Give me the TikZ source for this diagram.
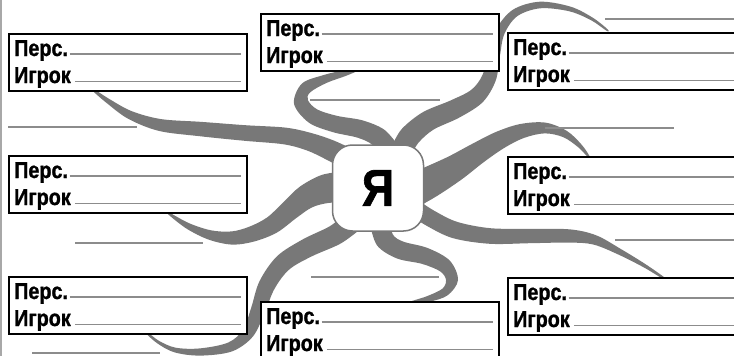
\documentclass[tikz,border=0pt]{standalone}
\usepackage{fontspec}
\setmainfont{Liberation Sans}
\newfontfamily\boxfont[FakeStretch=0.86,FakeBold=1.2]{Liberation Sans}
\usetikzlibrary{calc}

\definecolor{tentgray}{HTML}{787878}
\definecolor{linegray}{HTML}{8C8C8C}
\definecolor{edgegray}{HTML}{A8A8A8}

\tikzset{
  tent/.style={fill=tentgray, draw=none},
  pbox/.style={draw=black, line width=2pt, fill=white, minimum width=238pt, minimum height=57pt, inner sep=0pt, outer sep=0pt},
  plabel/.style={inner sep=0pt, font=\boxfont\bfseries\fontsize{23}{23}\selectfont},
  pline/.style={draw=linegray, line width=1.4pt},
  freeline/.style={draw=linegray, line width=1.5pt},
  mebox/.style={draw=tentgray, line width=1.5pt, fill=white, rounded corners=20pt, minimum width=91pt, minimum height=86pt, inner sep=0pt, font=\boxfont\bfseries\fontsize{52}{52}\selectfont},
}

% tapered tentacle: list of x/y/w from base to tip
\newcommand\tentacle[2][]{%
  \foreach \tA/\tB/\tC [count=\tK] in {#2}{%
    \ifnum\tK=1 \xdef\ttxs{\tA}\xdef\ttys{\tB}\xdef\ttws{\tC}%
    \else \xdef\ttxs{\ttxs,\tA}\xdef\ttys{\ttys,\tB}\xdef\ttws{\ttws,\tC}\fi
    \xdef\ttn{\tK}}%
  \gdef\ttsideL{}\gdef\ttsideR{}%
  \pgfmathtruncatemacro\ttlast{\ttn-1}%
  \foreach \tJ in {0,...,\ttlast}{%
    \pgfmathtruncatemacro\ttjp{max(\tJ-1,0)}%
    \pgfmathtruncatemacro\ttjn{min(\tJ+1,\ttlast)}%
    \pgfmathsetmacro\ttpx{{\ttxs}[\tJ]}%
    \pgfmathsetmacro\ttpy{{\ttys}[\tJ]}%
    \pgfmathsetmacro\ttww{{\ttws}[\tJ]}%
    \pgfmathsetmacro\ttax{{\ttxs}[\ttjn]}%
    \pgfmathsetmacro\ttay{{\ttys}[\ttjn]}%
    \pgfmathsetmacro\ttbx{{\ttxs}[\ttjp]}%
    \pgfmathsetmacro\ttby{{\ttys}[\ttjp]}%
    \pgfmathsetmacro\ttpw{\ttww*0.6}%
    \pgfmathsetmacro\ttdx{\ttax-\ttbx}%
    \pgfmathsetmacro\ttdy{\ttay-\ttby}%
    \pgfmathsetmacro\ttdl{veclen(\ttdx,\ttdy)}%
    \pgfmathsetmacro\ttlx{\ttpx-(\ttdy)/\ttdl*\ttpw}%
    \pgfmathsetmacro\ttly{\ttpy+(\ttdx)/\ttdl*\ttpw}%
    \pgfmathsetmacro\ttrx{\ttpx+(\ttdy)/\ttdl*\ttpw}%
    \pgfmathsetmacro\ttry{\ttpy-(\ttdx)/\ttdl*\ttpw}%
    \xdef\ttsideL{\ttsideL(\ttlx,\ttly)}%
    \xdef\ttsideR{(\ttrx,\ttry)\ttsideR}%
  }%
  \edef\tttmp{\noexpand\fill[tent,#1] plot[smooth,tension=0.55] coordinates {\ttsideL\ttsideR} -- cycle;}%
  \tttmp}

% person box
\newcommand\pbox[3]{%
  \node[pbox, anchor=north west] (#1) at (#2,#3) {};
  \node[plabel, anchor=base west] (#1p) at ($(#1.north west)+(5pt,-22pt)$) {Перс.};
  \node[plabel, anchor=base west] (#1i) at ($(#1.north west)+(5pt,-49pt)$) {Игрок};
  \draw[pline] ($(#1p.base east)+(1.5pt,2pt)$) -- ($(#1p.base east -| #1.east)+(-6pt,2pt)$);
  \draw[pline] ($(#1i.base east)+(4pt,1.5pt)$) -- ($(#1i.base east -| #1.east)+(-6pt,1.5pt)$);
}

\begin{document}
\begin{tikzpicture}[x=1pt,y=-1pt]
\useasboundingbox (0,0) rectangle (734,356);
\clip (0,0) rectangle (734,356);
\fill[white] (0,0) rectangle (734,356);

% left page edge
\draw[edgegray, line width=1.2pt] (1,0) -- (1,356);

% tentacles
\tentacle{350/160/18, 330/150/17, 310/142/15, 285/136/14, 245/133/13, 200/129/12, 160/125/10, 130/115/7, 108/101/4, 92/89/1.5}
\tentacle{388/150/18, 378/137/16, 360/129/15, 335/124/14, 313/116/13, 301/102/12, 306/88/10, 325/79/7, 345/73/5, 360/68/2.5}
\tentacle{402/150/18, 410/136/18, 428/121/17, 455/109/16, 477/96/14, 489/78/12, 494/55/10, 500/32/8, 515/13/6.5, 540/5/5.5, 570/9/4, 592/19/2.5, 607/30/1.5}
\tentacle{410/192/28, 430/182/26, 455/168/22, 478/153/18, 500/140/15, 522/131/12, 545/128/9, 565/134/6, 580/146/3.5, 589/157/1.5}
\tentacle{410/205/14, 430/218/14, 455/230/14, 490/236/13, 530/236/12, 570/236/11, 595/240/8, 620/252/5, 645/266/3, 665/279/1.5}
\tentacle{380/222/17, 385/240/16, 400/250/15, 425/256/14, 445/266/12, 452/280/10, 445/292/7, 428/299/5, 410/303/2}
\tentacle{352/222/18, 335/235/17, 307/248/16, 283/263/15, 267/285/14, 258/310/12, 248/333/10, 230/347/8, 200/352/6, 175/350/4, 158/342/2.5, 146/332/1.5}
\tentacle{345/187/26, 325/189/24, 306/197/20, 290/210/17, 272/225/15, 252/234/13, 232/238/11, 210/235/8, 188/226/5, 168/213/1.5}

% free answer lines
\coordinate (f1a) at (8,127);   \coordinate (f1b) at (137,127);
\coordinate (f2a) at (75,243);  \coordinate (f2b) at (203,243);
\coordinate (f3a) at (32,353);  \coordinate (f3b) at (160,353);
\coordinate (f4a) at (310,100); \coordinate (f4b) at (440,100);
\coordinate (f5a) at (311,277); \coordinate (f5b) at (439,277);
\coordinate (f6a) at (605,19);  \coordinate (f6b) at (734,19);
\coordinate (f7a) at (545,128); \coordinate (f7b) at (674,128);
\coordinate (f8a) at (615,240); \coordinate (f8b) at (734,240);
\foreach \k in {1,...,8}{\draw[freeline] (f\k a) -- (f\k b);}

% person boxes
\pbox{tl}{9}{34}
\pbox{ml}{9}{156}
\pbox{bl}{9}{277}
\pbox{tc}{261}{14}
\pbox{bc}{261}{302}
\pbox{tr}{508}{33}
\pbox{mr}{508}{157}
\pbox{br}{508}{278}

% centre
\node[mebox] (me) at (378,188) {Я};
\end{tikzpicture}
\end{document}
